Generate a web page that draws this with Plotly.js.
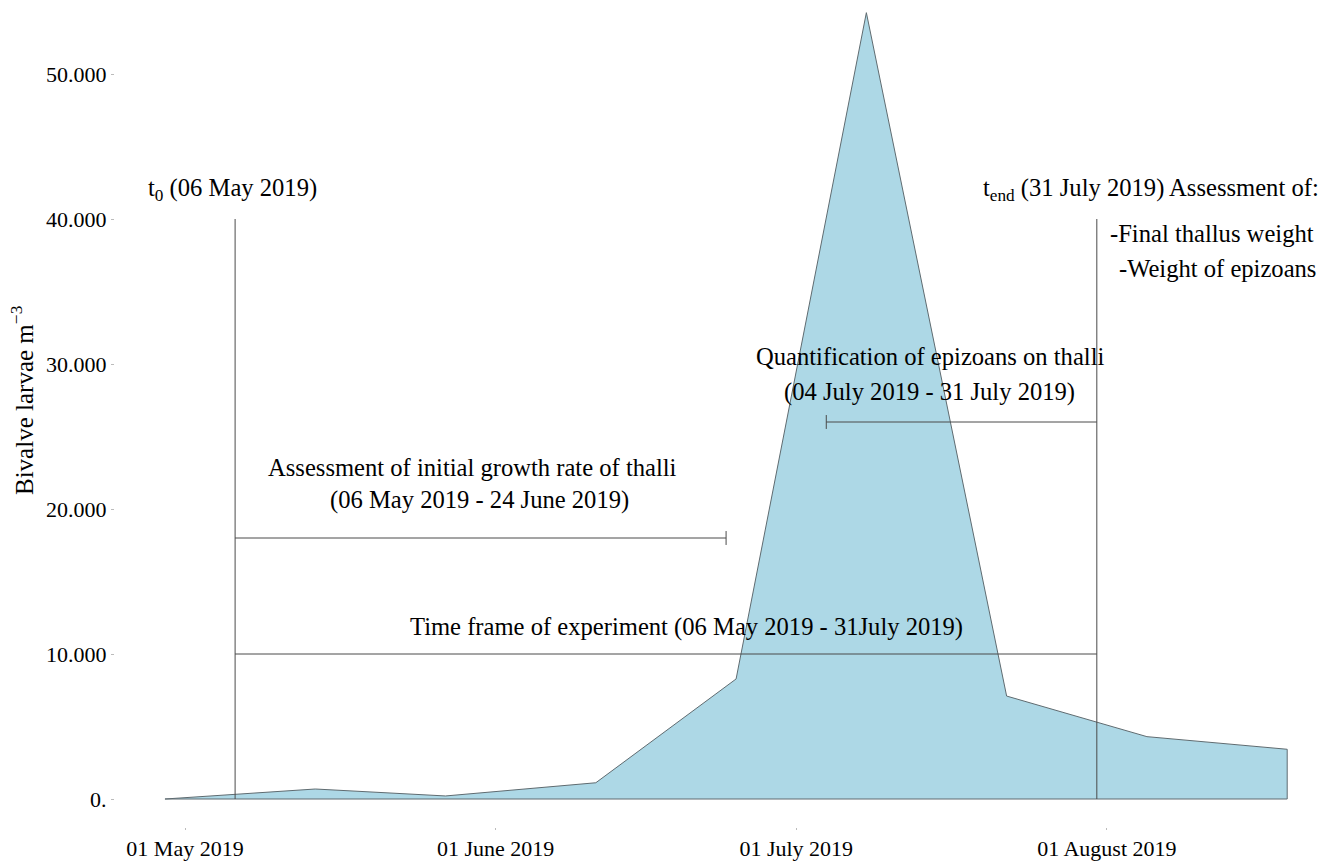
<!DOCTYPE html>
<html>
<head>
<meta charset="utf-8">
<script src="https://cdn.plot.ly/plotly-3.0.1.min.js"></script>
<style>
  html, body { margin: 0; padding: 0; background: #fff; }
  #chart { width: 1341px; height: 861px; }
</style>
</head>
<body>
<div id="chart"></div>
<script>
// ---------- data ----------
const sampleDates = ['2019-04-29', '2019-05-14', '2019-05-27', '2019-06-11', '2019-06-25',
                     '2019-07-08', '2019-07-22', '2019-08-05', '2019-08-19'];
const larvaeDensity = [0, 690, 210, 1120, 8280, 54230, 7100, 4300, 3430];

const xTickDates = ['2019-05-01', '2019-06-01', '2019-07-01', '2019-08-01'];
const xTickLabels = ['01 May 2019', '01 June 2019', '01 July 2019', '01 August 2019'];
const yTickValues = [0, 10000, 20000, 30000, 40000, 50000];
const yTickLabels = ['0.', '10.000', '20.000', '30.000', '40.000', '50.000'];

// experiment events
const tStart = '2019-05-06';
const tEnd = '2019-07-31';
const growthEnd = '2019-06-24';
const epizoanStart = '2019-07-04';
const markerTop = 40000;      // height of t0 / tend lines
const timeFrameLevel = 10000; // whole experiment bar
const growthLevel = 18000;    // initial growth assessment bar
const epizoanLevel = 26000;   // epizoan quantification bar

// ---------- layout geometry (pixels) ----------
const W = 1341, H = 861;
const L = 115, R = 0, T = 0, B = 34;
const plotW = W - L - R, plotH = H - T - B;
const DAY = 86400000;
const maySt = Date.UTC(2019, 4, 1);
const pxDay = 10.02, mayPx = 185;
const toStr = ms => new Date(ms).toISOString().replace('T', ' ').replace('Z', '');
const xr = [toStr(maySt + (L - mayPx) / pxDay * DAY), toStr(maySt + (W - R - mayPx) / pxDay * DAY)];
const zeroPx = 799, pxPerUnit = 0.0145;
const yr = [-(T + plotH - zeroPx) / pxPerUnit, (zeroPx - T) / pxPerUnit];
const px = x => (x - L) / plotW;
const py = y => 1 - (y - T) / plotH;

const serif = 'Liberation Serif';
const lineCol = '#4a4a4a';
const capHalf = 480;
const annSize = 24.6;

// closed polygon built from the series
const polyX = sampleDates.concat([sampleDates[sampleDates.length - 1], sampleDates[0]]);
const polyY = larvaeDensity.concat([0, 0]);

const traces = [{
  type: 'scatter', mode: 'lines',
  x: polyX, y: polyY,
  fill: 'toself', fillcolor: '#ADD8E6',
  line: { color: '#5f6b70', width: 1 },
  hoverinfo: 'skip', showlegend: false
}];

function seg(x0, y0, x1, y1) {
  return { type: 'line', xref: 'x', yref: 'y', x0, y0, x1, y1,
           line: { color: lineCol, width: 1 }, layer: 'above' };
}
const shapes = [
  seg(tStart, 0, tStart, markerTop),
  seg(tEnd, 0, tEnd, markerTop),
  seg(tStart, timeFrameLevel, tEnd, timeFrameLevel),
  seg(tStart, growthLevel, growthEnd, growthLevel),
  seg(growthEnd, growthLevel - capHalf, growthEnd, growthLevel + capHalf),
  seg(epizoanStart, epizoanLevel, tEnd, epizoanLevel),
  seg(epizoanStart, epizoanLevel - capHalf, epizoanStart, epizoanLevel + capHalf)
];

function ann(text, x, y, size) {
  return { text, xref: 'paper', yref: 'paper', x: px(x), y: py(y),
           xanchor: 'center', yanchor: 'middle', showarrow: false,
           font: { family: serif, size: size || annSize, color: '#000' } };
}
const annotations = [
  ann('t<sub>0</sub> (06 May 2019)', 232, 190),
  ann('t<sub>end</sub> (31 July 2019) Assessment of:', 1151, 190),
  ann('-Final thallus weight', 1212, 233),
  ann('-Weight of epizoans', 1217, 268),
  ann('Quantification of epizoans on thalli', 930, 356),
  ann('(04 July 2019 - 31 July 2019)', 929, 392),
  ann('Assessment of initial growth rate of thalli', 472, 467),
  ann('(06 May 2019 - 24 June 2019)', 479, 500),
  ann('Time frame of experiment (06 May 2019 - 31July 2019)', 686, 627),
  { text: 'Bivalve larvae m<sup>−3</sup>', xref: 'paper', yref: 'paper',
    x: px(22), y: py(400), xanchor: 'center', yanchor: 'middle', textangle: -90,
    showarrow: false, font: { family: serif, size: 25, color: '#000' } }
];

const layout = {
  width: W, height: H,
  margin: { l: L, r: R, t: T, b: B, pad: 0 },
  paper_bgcolor: '#fff', plot_bgcolor: '#fff',
  showlegend: false,
  font: { family: serif, color: '#000' },
  xaxis: {
    type: 'date', range: xr,
    tickmode: 'array', tickvals: xTickDates, ticktext: xTickLabels,
    ticks: 'outside', ticklen: 2, tickcolor: '#bbb', tickwidth: 1,
    showgrid: false, zeroline: false, showline: false,
    tickfont: { family: serif, size: 22, color: '#000' },
    fixedrange: true
  },
  yaxis: {
    range: yr,
    tickmode: 'array', tickvals: yTickValues, ticktext: yTickLabels,
    ticks: 'outside', ticklen: 3, tickcolor: '#bbb', tickwidth: 1,
    showgrid: false, zeroline: false, showline: false,
    tickfont: { family: serif, size: 22, color: '#000' },
    fixedrange: true
  },
  shapes, annotations
};

Plotly.newPlot('chart', traces, layout, { staticPlot: true, displayModeBar: false });
</script>
</body>
</html>
